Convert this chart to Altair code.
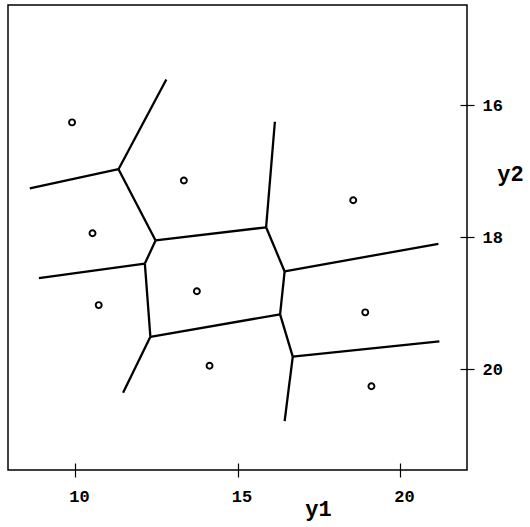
import altair as alt
import pandas as pd

# Generator points (y1, y2)
pt_y1 = [9.91, 13.35, 18.56, 10.54, 13.75, 10.73, 18.93, 14.14, 19.12]
pt_y2 = [16.26, 17.14, 17.44, 17.94, 18.82, 19.03, 19.14, 19.95, 20.26]

# Vertices of the tessellation edges (y1, y2)
vertex_names = ["A", "A1", "A2", "B", "C", "Ct", "D", "Dr", "E", "F", "Fr", "Fb", "G", "Gb", "H", "Hl"]
vertex_y1 = [11.34, 8.61, 12.81, 12.48, 15.88, 16.15, 16.45, 21.18, 16.31, 16.70, 21.21, 16.45, 12.32, 11.48, 12.15, 8.89]
vertex_y2 = [16.97, 17.26, 15.61, 18.05, 17.85, 16.25, 18.52, 18.10, 19.17, 19.81, 19.58, 20.79, 19.51, 20.36, 18.40, 18.62]

# Cell boundaries as pairs of vertices
edge_from = ["A1", "A", "A", "B", "C", "C", "D", "D", "E", "F", "F", "E", "G", "G", "H", "H"]
edge_to = ["A", "A2", "B", "C", "Ct", "D", "Dr", "E", "F", "Fr", "Fb", "G", "Gb", "H", "Hl", "B"]

x_ticks = [10, 15, 20]
y_ticks = [16, 18, 20]

vx = dict(zip(vertex_names, vertex_y1))
vy = dict(zip(vertex_names, vertex_y2))
edges = pd.DataFrame({
    "x1": [vx[a] for a in edge_from],
    "y1": [vy[a] for a in edge_from],
    "x2": [vx[b] for b in edge_to],
    "y2": [vy[b] for b in edge_to],
})
points = pd.DataFrame({"y1": pt_y1, "y2": pt_y2})

FONT = "Liberation Mono"
xs = alt.Scale(domain=[7.94, 22.06], nice=False, zero=False)
ys = alt.Scale(domain=[14.48, 21.53], nice=False, zero=False, reverse=True)

label_style = dict(labelFont=FONT, labelFontSize=17, labelFontWeight="bold", labelColor="black",
                   tickColor="black", tickWidth=1.2, tickSize=7, domain=False, grid=False)

x_axis = alt.Axis(orient="bottom", values=x_ticks, title="y1", labelPadding=11, labelOffset=4,
                  titleFont=FONT, titleFontSize=22, titleFontWeight="bold", titleColor="black",
                  titleX=310, titleY=45, titleBaseline="alphabetic", titleAlign="center",
                  **label_style)
y_axis = alt.Axis(orient="right", values=y_ticks, title="y2", labelPadding=8, labelBaseline="middle",
                  titleFont=FONT, titleFontSize=22, titleFontWeight="bold", titleColor="black",
                  titleAngle=0, titleX=43, titleY=168, titleAlign="center", titleBaseline="middle",
                  **label_style)

# Inner halves of the tick marks, which cross the frame
x_inner = alt.Axis(orient="bottom", values=x_ticks, title=None, labels=False, domain=False, grid=False,
                   tickColor="black", tickWidth=1.2, tickSize=7, offset=-7)
y_inner = alt.Axis(orient="right", values=y_ticks, title=None, labels=False, domain=False, grid=False,
                   tickColor="black", tickWidth=1.2, tickSize=7, offset=-7)

edge_layer = alt.Chart(edges).mark_rule(color="black", strokeWidth=2.3).encode(
    x=alt.X("x1:Q", scale=xs, axis=x_axis),
    y=alt.Y("y1:Q", scale=ys, axis=y_axis),
    x2="x2:Q",
    y2="y2:Q",
)

point_layer = alt.Chart(points).mark_point(shape="circle", filled=False, color="black",
                                           size=36, strokeWidth=1.9, opacity=1).encode(
    x=alt.X("y1:Q", scale=xs, axis=x_inner),
    y=alt.Y("y2:Q", scale=ys, axis=y_inner),
)

chart = alt.layer(edge_layer, point_layer).resolve_axis(
    x="independent", y="independent"
).properties(
    width=459,
    height=465,
    autosize=alt.AutoSizeParams(type="none"),
    padding={"left": 8, "top": 5, "right": 63, "bottom": 57},
    background="white",
).configure_view(stroke="black", strokeWidth=1.5)

chart.save("out.html", embed_options={"renderer": "svg", "actions": False})
